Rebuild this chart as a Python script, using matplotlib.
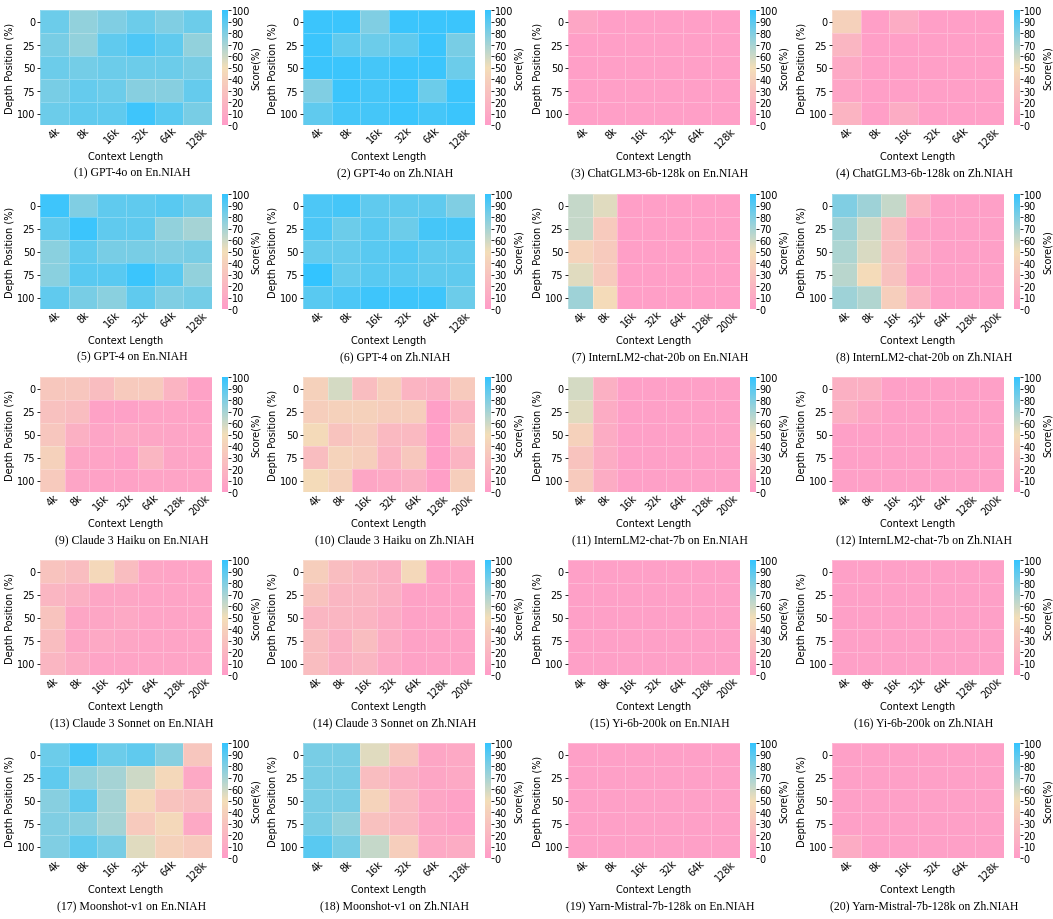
import numpy as np
import matplotlib
matplotlib.use('Agg')
import matplotlib.pyplot as plt
from matplotlib.colors import LinearSegmentedColormap

# depth rows / context columns
depths = ['0', '25', '50', '75', '100']
ctx6 = ['4k', '8k', '16k', '32k', '64k', '128k']
ctx7 = ['4k', '8k', '16k', '32k', '64k', '128k', '200k']

gpt4o_en = [[85, 75, 80, 85, 80, 85],
            [82, 75, 88, 93, 88, 75],
            [85, 83, 85, 85, 85, 82],
            [82, 87, 85, 78, 78, 87],
            [85, 88, 88, 97, 90, 82]]
gpt4o_zh = [[98, 98, 80, 98, 98, 98],
            [98, 88, 85, 88, 98, 82],
            [98, 98, 95, 98, 98, 85],
            [80, 98, 95, 98, 85, 98],
            [88, 95, 95, 98, 95, 98]]
glm_en = [[8, 2, 2, 2, 2, 2],
          [2, 2, 2, 2, 2, 2],
          [2, 2, 2, 2, 2, 2],
          [2, 2, 2, 2, 2, 2],
          [2, 2, 2, 2, 2, 2]]
glm_zh = [[40, 2, 12, 2, 2, 2],
          [20, 2, 2, 2, 2, 2],
          [10, 2, 2, 2, 2, 2],
          [6, 2, 2, 2, 2, 2],
          [18, 2, 12, 2, 2, 2]]
gpt4_en = [[97, 80, 88, 88, 90, 85],
           [88, 98, 88, 88, 75, 70],
           [77, 88, 82, 82, 80, 82],
           [77, 90, 90, 98, 90, 75],
           [88, 82, 77, 88, 80, 83]]
gpt4_zh = [[93, 95, 88, 88, 88, 80],
           [93, 85, 90, 85, 95, 95],
           [87, 87, 90, 92, 88, 88],
           [100, 87, 90, 90, 88, 88],
           [90, 93, 97, 97, 97, 85]]
intern20_en = [[62, 55, 2, 2, 2, 2, 2],
               [62, 35, 2, 2, 2, 2, 2],
               [42, 35, 2, 2, 2, 2, 2],
               [55, 35, 2, 2, 2, 2, 2],
               [72, 48, 2, 2, 2, 2, 2]]
intern20_zh = [[80, 72, 62, 18, 3, 3, 3],
               [72, 60, 25, 5, 3, 3, 3],
               [68, 57, 25, 10, 3, 3, 3],
               [65, 48, 28, 5, 3, 3, 3],
               [72, 67, 38, 18, 3, 3, 3]]
haiku_en = [[33, 32, 25, 35, 35, 18, 5],
            [28, 25, 5, 4, 6, 6, 5],
            [32, 15, 7, 10, 8, 7, 6],
            [40, 8, 6, 4, 20, 7, 6],
            [35, 7, 5, 5, 6, 6, 6]]
haiku_zh = [[40, 58, 25, 38, 18, 15, 35],
            [38, 40, 40, 37, 38, 2, 18],
            [47, 30, 35, 22, 22, 2, 30],
            [25, 42, 38, 18, 33, 2, 18],
            [48, 40, 8, 10, 15, 2, 38]]
intern7_en = [[58, 15, 3, 3, 3, 3, 3],
              [55, 12, 3, 3, 3, 3, 3],
              [40, 12, 3, 3, 3, 3, 3],
              [30, 12, 3, 3, 3, 3, 3],
              [35, 12, 3, 3, 3, 3, 3]]
intern7_zh = [[15, 15, 3, 3, 3, 3, 3],
              [15, 8, 3, 3, 3, 3, 3],
              [3, 3, 3, 3, 3, 3, 3],
              [3, 3, 3, 3, 3, 3, 3],
              [3, 3, 3, 3, 3, 3, 3]]
sonnet_en = [[30, 25, 45, 25, 8, 6, 6],
             [20, 15, 8, 8, 6, 6, 6],
             [30, 8, 8, 10, 6, 6, 6],
             [25, 8, 10, 8, 6, 6, 6],
             [20, 12, 6, 6, 6, 6, 6]]
sonnet_zh = [[38, 25, 20, 15, 45, 5, 5],
             [30, 20, 20, 15, 5, 5, 5],
             [20, 20, 18, 12, 5, 5, 5],
             [25, 15, 25, 12, 5, 5, 5],
             [25, 15, 20, 10, 5, 5, 5]]
yi_en = [[3, 3, 3, 3, 3, 3, 3]] * 5
yi_zh = [[3, 3, 3, 3, 3, 3, 3]] * 5
moon_en = [[85, 95, 85, 88, 78, 32],
           [88, 75, 70, 60, 45, 10],
           [78, 88, 70, 45, 30, 25],
           [80, 78, 70, 35, 45, 10],
           [80, 88, 82, 55, 40, 35]]
moon_zh = [[82, 82, 55, 32, 8, 10],
           [82, 82, 25, 15, 8, 10],
           [82, 82, 42, 22, 8, 5],
           [82, 75, 28, 22, 8, 5],
           [90, 82, 62, 38, 10, 12]]
yarn_en = [[3, 3, 3, 3, 3, 3]] * 5
yarn_zh = [[3, 3, 3, 3, 3, 3],
           [3, 3, 3, 3, 3, 3],
           [3, 3, 3, 3, 3, 3],
           [3, 3, 3, 3, 3, 3],
           [12, 3, 3, 3, 3, 3]]

panels = [
    ('(1) GPT-4o on En.NIAH', gpt4o_en, ctx6),
    ('(2) GPT-4o on Zh.NIAH', gpt4o_zh, ctx6),
    ('(3) ChatGLM3-6b-128k on En.NIAH', glm_en, ctx6),
    ('(4) ChatGLM3-6b-128k on Zh.NIAH', glm_zh, ctx6),
    ('(5) GPT-4 on En.NIAH', gpt4_en, ctx6),
    ('(6) GPT-4 on Zh.NIAH', gpt4_zh, ctx6),
    ('(7) InternLM2-chat-20b on En.NIAH', intern20_en, ctx7),
    ('(8) InternLM2-chat-20b on Zh.NIAH', intern20_zh, ctx7),
    ('(9) Claude 3 Haiku on En.NIAH', haiku_en, ctx7),
    ('(10) Claude 3 Haiku on Zh.NIAH', haiku_zh, ctx7),
    ('(11) InternLM2-chat-7b on En.NIAH', intern7_en, ctx7),
    ('(12) InternLM2-chat-7b on Zh.NIAH', intern7_zh, ctx7),
    ('(13) Claude 3 Sonnet on En.NIAH', sonnet_en, ctx7),
    ('(14) Claude 3 Sonnet on Zh.NIAH', sonnet_zh, ctx7),
    ('(15) Yi-6b-200k on En.NIAH', yi_en, ctx7),
    ('(16) Yi-6b-200k on Zh.NIAH', yi_zh, ctx7),
    ('(17) Moonshot-v1 on En.NIAH', moon_en, ctx6),
    ('(18) Moonshot-v1 on Zh.NIAH', moon_zh, ctx6),
    ('(19) Yarn-Mistral-7b-128k on En.NIAH', yarn_en, ctx6),
    ('(20) Yarn-Mistral-7b-128k on Zh.NIAH', yarn_zh, ctx6),
]

cmap = LinearSegmentedColormap.from_list('niah', ['#FF9CC8', '#F3DEB8', '#33C4FF'])

W, H = 1053, 920
fig = plt.figure(figsize=(W / 100, H / 100), dpi=100)

# pixel layout
col_left = [40, 303, 568, 832]
row_top = [11, 195, 378, 561, 744]
hm_w, hm_h = 172, 115

for i, (title, data, ctx) in enumerate(panels):
    r, c = divmod(i, 4)
    x0, y0 = col_left[c], row_top[r]
    ax = fig.add_axes([x0 / W, 1 - (y0 + hm_h) / H, hm_w / W, hm_h / H])
    arr = np.array(data, dtype=float)
    mesh = ax.pcolormesh(arr, cmap=cmap, vmin=0, vmax=100,
                         edgecolors=(1, 1, 1, 0.25), linewidth=0.4)
    ax.set_xlim(0, arr.shape[1])
    ax.set_ylim(arr.shape[0], 0)
    ax.set_xticks(np.arange(arr.shape[1]) + 0.5)
    ax.set_xticklabels(ctx, rotation=45, fontsize=7)
    ax.set_yticks(np.arange(arr.shape[0]) + 0.5)
    ax.set_yticklabels(depths, fontsize=7)
    ax.tick_params(axis='y', length=2.5, width=0.6, pad=1)
    ax.tick_params(axis='x', length=0, pad=0)
    for s in ax.spines.values():
        s.set_visible(False)
    ax.set_xlabel('Context Length', fontsize=7, labelpad=1)
    ax.set_ylabel('Depth Position (%)', fontsize=7, labelpad=1)

    cax = fig.add_axes([(x0 + hm_w + 10) / W, 1 - (y0 + hm_h) / H, 6 / W, hm_h / H])
    cb = fig.colorbar(mesh, cax=cax)
    cb.outline.set_visible(False)
    cb.set_ticks(range(0, 101, 10))
    cb.ax.tick_params(labelsize=7, length=2, width=0.6, pad=0.5)
    cb.set_label('Score(%)', fontsize=7, labelpad=1)

    fig.text((x0 + hm_w / 2 + 6) / W, 1 - (y0 + 162) / H, title,
             ha='center', va='center', fontsize=8.5, family='Liberation Serif')

fig.savefig('out.png', dpi=100)
